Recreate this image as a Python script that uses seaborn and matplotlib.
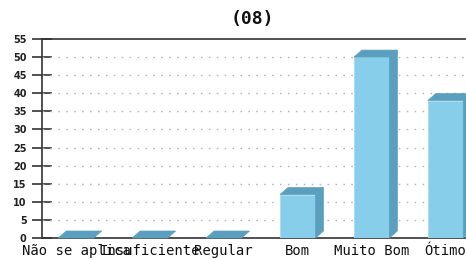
import matplotlib
matplotlib.use("Agg")
import matplotlib.pyplot as plt
from matplotlib.patches import Polygon
import seaborn as sns
import pandas as pd

categories = ["Não se aplica", "Insuficiente", "Regular", "Bom", "Muito Bom", "Ótimo"]
values = [0, 0, 0, 12, 50, 38]
yticks = list(range(0, 56, 5))
title = "(08)"

front_color = "#87CEEB"
dark_color = "#5A9FBE"

sns.set_theme(style="white")
plt.rcParams["font.family"] = ["DejaVu Sans"]

fig = plt.figure(figsize=(4.66, 2.60), dpi=100)
ax = fig.add_axes([42/466, 1-238/260, 1-42/466+0.01, (238-39)/260])

df = pd.DataFrame({"cat": categories, "val": values})
sns.barplot(data=df, x="cat", y="val", ax=ax, color=front_color, width=0.48,
            saturation=1, edgecolor="#a8dcf0", linewidth=0.6, zorder=3)

ax.set_xlim(-0.46, 5.34)
ax.set_ylim(0, 55)
ax.set_yticks(yticks)
ax.set_xlabel("")
ax.set_ylabel("")

# grid
for y in yticks[1:-1]:
    ax.axhline(y, color="#b8b8b8", lw=1.0, ls=(0, (1.2, 4.5)), zorder=1)

# 3D faces
dx, dy = 8, 7
for p in ax.patches[:len(values)]:
    x0 = p.get_x(); w = p.get_width(); h = p.get_height()
    (X0, Y0) = ax.transData.transform((x0, 0))
    (X1, Y1) = ax.transData.transform((x0 + w, h))
    top = Polygon([(X0, Y1), (X1, Y1), (X1 + dx, Y1 + dy), (X0 + dx, Y1 + dy)],
                  closed=True, transform=None, facecolor=dark_color,
                  edgecolor=dark_color, lw=0.5, zorder=4)
    fig.add_artist(top)
    if h > 0:
        side = Polygon([(X1, Y0), (X1, Y1), (X1 + dx, Y1 + dy), (X1 + dx, Y0 + dy)],
                       closed=True, transform=None, facecolor=dark_color,
                       edgecolor=dark_color, lw=0.5, zorder=4)
        fig.add_artist(side)

for s in ["left", "bottom", "top"]:
    ax.spines[s].set_visible(True)
    ax.spines[s].set_color("#333333")
    ax.spines[s].set_linewidth(1.2)
ax.spines["right"].set_visible(False)

ax.tick_params(axis="y", direction="inout", length=14, width=1.2, color="#333333",
               labelsize=7, pad=4, left=True)
for lab in ax.get_yticklabels():
    lab.set_fontweight("bold")
    lab.set_color("#222222")
ax.tick_params(axis="x", length=0, pad=4)
for lab in ax.get_xticklabels():
    lab.set_family("DejaVu Sans Mono")
    lab.set_fontsize(10)
    lab.set_color("#111111")

fig.text(252/466, 1-19/260, title, ha="center", va="center",
         family="DejaVu Sans Mono", fontsize=13, fontweight="bold", color="#111111")

fig.savefig("out.png", dpi=100)
